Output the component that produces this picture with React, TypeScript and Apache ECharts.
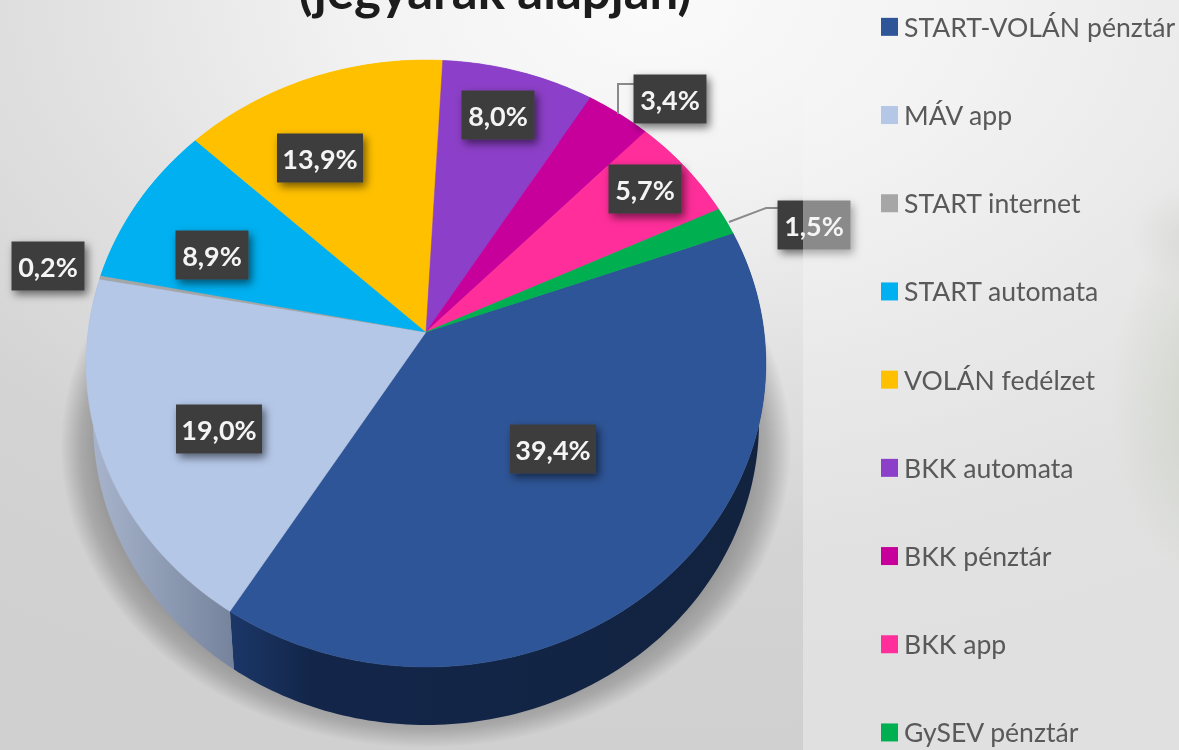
import React, { useEffect, useRef } from "react";
import * as echarts from "echarts";

const categories = ["START-VOLÁN pénztár", "MÁV app", "START internet", "START automata", "VOLÁN fedélzet", "BKK automata", "BKK pénztár", "BKK app", "GySEV pénztár"];
const shares = [39.4, 19.0, 0.2, 8.9, 13.9, 8.0, 3.4, 5.7, 1.5];
const topColors = ["#2e5597", "#b4c7e7", "#a6a6a6", "#00b0f0", "#ffc000", "#8c3fc8", "#c7009c", "#ff2e9a", "#00b050"];
const titleText = "(jegyárak alapján)";

// layout (pixels on the page)
const APEX = { x: 426, y: 332 };
const RX = 338, RY = 300.2, TILT = 0.1038, DEPTH = 58, START_DEG = 70.1, WALL_TAPER = 0.98;
const labelCentres: number[][] = [[553, 449], [219, 429], [48, 266], [212, 255], [320, 158], [498, 115], [670, 99], [645, 189], [814, 225]];
const leaderLines: Record<number, number[][]> = {
  6: [[618, 114], [618, 84], [636, 84]],
  8: [[729, 222], [766, 208], [780, 208]],
};
const SHADOW_LAYERS = 36;

const total = shares.reduce((a, b) => a + b, 0);
const cumulative = shares.map((_, i) => shares.slice(0, i).reduce((a, b) => a + b, 0));

function project(deg: number, lowered = false) {
  const t = (deg * Math.PI) / 180;
  const u = Math.sin(t), v = -Math.cos(t);
  const w = 1 - TILT * v;
  const x = (RX * u) / w, y = (RY * v) / w;
  return lowered ? [APEX.x + x * WALL_TAPER, APEX.y + y + DEPTH] : [APEX.x + x, APEX.y + y];
}

function wallFill(i: number) {
  if (i === 0) return new echarts.graphic.LinearGradient(0, 0, 1, 0, [
    { offset: 0, color: "#1b3768" }, { offset: 0.15, color: "#13264a" }, { offset: 1, color: "#12233f" },
  ]);
  if (i === 1) return new echarts.graphic.LinearGradient(0, 0, 1, 0, [
    { offset: 0, color: "#a9b6ce" }, { offset: 1, color: "#76839c" },
  ]);
  return topColors[i];
}

function renderSlice(params: any, api: any) {
  const i = params.seriesIndex;
  const value = api.value(0);
  const from = START_DEG + (cumulative[i] / total) * 360;
  const sweep = (value / total) * 360;
  const steps = Math.max(2, Math.ceil(sweep));
  const arc: number[][] = [], low: number[][] = [];
  for (let s = 0; s <= steps; s++) {
    const d = from + (sweep * s) / steps;
    arc.push(project(d));
    low.push(project(d, true));
  }
  const [lx, ly] = labelCentres[i];
  const text = value.toFixed(1).replace(".", ",") + "%";
  const boxW = text.length > 4 ? 86 : 73;
  const boxH = 49;
  const children: any[] = [
    { type: "polygon", z2: 1, shape: { points: [...arc, ...low.slice().reverse()] }, style: { fill: wallFill(i) } },
    { type: "polygon", z2: 5, shape: { points: [[APEX.x, APEX.y], ...arc] }, style: { fill: topColors[i], stroke: topColors[i], lineWidth: 0.5 } },
  ];
  if (leaderLines[i]) {
    children.push({ type: "polyline", z2: 8, shape: { points: leaderLines[i] }, style: { fill: "none", stroke: "#8a8a8a", lineWidth: 2 } });
  }
  children.push({
    type: "rect", z2: 10, shape: { x: lx - boxW / 2, y: ly - boxH / 2, width: boxW, height: boxH },
    style: { fill: "#3d3d3d", shadowBlur: 8, shadowColor: "rgba(0,0,0,0.55)", shadowOffsetX: 3, shadowOffsetY: 4 },
  });
  children.push({
    type: "text", z2: 11, x: lx, y: ly,
    style: { text, fill: "#f4f4f4", font: "bold 27px Lato", textAlign: "center", textVerticalAlign: "middle", verticalAlign: "middle" },
  });
  return { type: "group", children };
}

export default function App() {
  const ref = useRef<HTMLDivElement>(null);
  useEffect(() => {
    if (!ref.current) return;
    const chart = echarts.init(ref.current, undefined, { renderer: "svg" });
    const blob = (cx: number, cy: number, rx: number, ry: number, color: string, clear: string) => ({
      type: "ellipse", z: 1, shape: { cx, cy, rx, ry },
      style: { fill: new echarts.graphic.RadialGradient(0.5, 0.5, 0.5, [{ offset: 0, color }, { offset: 1, color: clear }]) },
    });
    const shadowRings = Array.from({ length: SHADOW_LAYERS }, (_, k) => ({
      type: "ellipse", z: 1,
      shape: { cx: 426, cy: 447, rx: 330 + k, ry: 268 + k * 0.93 },
      style: { fill: "rgba(60,60,60,0.013)" },
    }));
    chart.setOption({
      animation: false,
      legend: {
        orient: "vertical", left: 881, top: 9, height: 820, padding: 0,
        itemWidth: 17, itemHeight: 18, itemGap: 52.5, icon: "rect", selectedMode: false,
        data: categories,
        textStyle: { color: "#595959", fontFamily: "Lato", fontSize: 26.6, lineHeight: 35.7, padding: [0, 0, 0, 1] },
      },
      graphic: {
        elements: [
          {
            type: "rect", z: 0, shape: { x: 0, y: 0, width: 1179, height: 750 },
            style: {
              fill: new echarts.graphic.RadialGradient(0.55, 0, 1, [
                { offset: 0, color: "#fbfbfb" }, { offset: 0.25, color: "#f2f2f2" },
                { offset: 0.5, color: "#e1e1e1" }, { offset: 0.75, color: "#d3d3d3" }, { offset: 1, color: "#d0d0d0" },
              ]),
            },
          },
          blob(1220, 400, 110, 190, "rgba(140,155,115,0.5)", "rgba(140,155,115,0)"),
          blob(1185, 235, 55, 50, "rgba(170,170,165,0.4)", "rgba(170,170,165,0)"),
          ...shadowRings,
          { type: "rect", z: 3, shape: { x: 803, y: 0, width: 376, height: 750 }, style: { fill: "rgba(245,245,245,0.42)" } },
          {
            type: "text", z: 3, x: 495, y: 15,
            style: { text: titleText, fill: "#1c1c1c", font: "bold 51px Lato", textAlign: "center", textVerticalAlign: "bottom", verticalAlign: "bottom" },
          },
        ],
      },
      series: categories.map((name, i) => ({
        type: "custom",
        name,
        coordinateSystem: "none",
        itemStyle: { color: topColors[i] },
        data: [[shares[i]]],
        renderItem: renderSlice,
        silent: true,
      })),
    });
    return () => chart.dispose();
  }, []);
  return <div ref={ref} style={{ position: "fixed", left: 0, top: 0, width: 1179, height: 750 }} />;
}
